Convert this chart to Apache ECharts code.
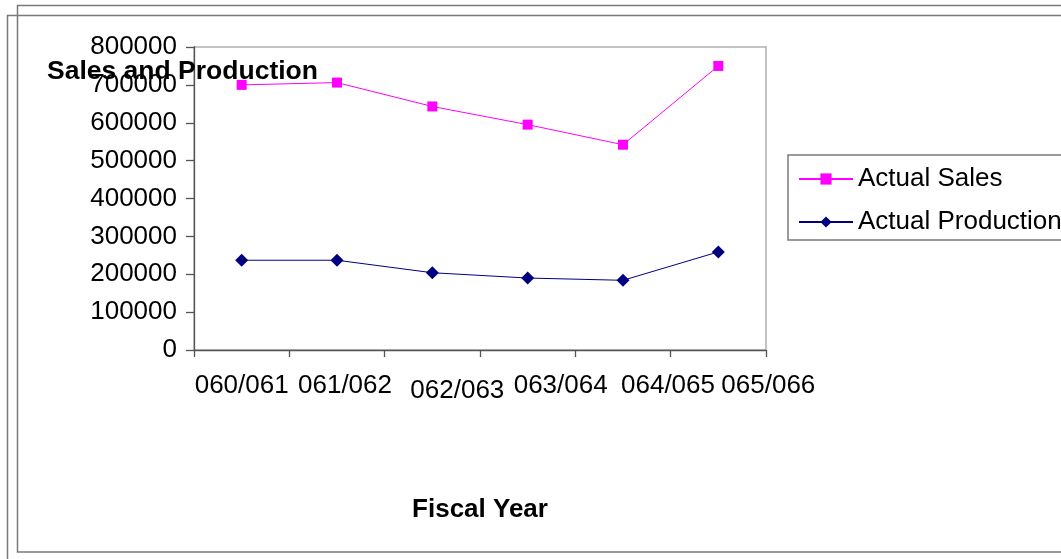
<!DOCTYPE html>
<html>
<head>
<meta charset="utf-8">
<script src="https://cdn.jsdelivr.net/npm/echarts@6/dist/echarts.min.js"></script>
<style>
  html, body { margin: 0; padding: 0; background: #fff; }
  #chart { width: 1061px; height: 559px; }
</style>
</head>
<body>
<div id="chart"></div>
<script>
// Fiscal years (Nepali calendar) on the category axis
const fiscalYears = ['060/061', '061/062', '062/063', '063/064', '064/065', '065/066'];
// Yearly totals
const actualSales = [700000, 706000, 643000, 595000, 542000, 750000];
const actualProduction = [237000, 237000, 204000, 190000, 184000, 259000];
// Value axis range
const yMin = 0;
const yMax = 800000;
const yStep = 100000;

// Per-label horizontal nudge (px) and drop, giving the staggered label row
const labelShift = [0, 8, 25, 33, 45, 50];
const labelDrop = [0, 0, 5, 0, 0, 0];

const FONT = '"Liberation Sans", Arial, sans-serif';

const rich = {};
fiscalYears.forEach(function (_, i) {
  const d = labelShift[i];
  rich['c' + i] = {
    fontFamily: FONT,
    fontSize: 26,
    color: '#000',
    padding: [labelDrop[i], d < 0 ? -2 * d : 0, 0, d > 0 ? 2 * d : 0]
  };
});

const chart = echarts.init(document.getElementById('chart'), null, { renderer: 'canvas' });

chart.setOption({
  animation: false,
  backgroundColor: '#fff',
  textStyle: { fontFamily: FONT },
  graphic: [
    {
      type: 'rect',
      shape: { x: 17.5, y: 5.5, width: 1100, height: 546.5 },
      style: { fill: null, stroke: '#7a7a7a', lineWidth: 1.5 },
      silent: true, z: -10
    },
    {
      type: 'rect',
      shape: { x: 7.5, y: 15.5, width: 1100, height: 600 },
      style: { fill: null, stroke: '#7a7a7a', lineWidth: 1.5 },
      silent: true, z: -10
    }
  ],
  title: {
    text: 'Sales and Production',
    left: 47,
    top: 58,
    padding: 0,
    textStyle: { fontFamily: FONT, fontSize: 26.5, fontWeight: 'bold', color: '#000' },
    z: 10
  },
  legend: {
    left: 788,
    top: 155,
    orient: 'vertical',
    padding: [11, 10, 5, 10],
    itemGap: 17,
    itemWidth: 54,
    itemHeight: 14,
    borderColor: '#7a7a7a',
    borderWidth: 1.5,
    borderRadius: 0,
    backgroundColor: '#fff',
    textStyle: { fontFamily: FONT, fontSize: 26, color: '#000' },
    data: ['Actual Sales', 'Actual Production']
  },
  grid: {
    left: 194,
    right: 295,
    top: 47,
    bottom: 209,
    show: true,
    borderColor: '#b0b0b0',
    borderWidth: 1.5,
    backgroundColor: 'transparent'
  },
  xAxis: {
    type: 'category',
    data: fiscalYears,
    boundaryGap: true,
    name: 'Fiscal Year',
    nameLocation: 'middle',
    nameGap: 147,
    nameTextStyle: { fontFamily: FONT, fontSize: 26, fontWeight: 'bold', color: '#000' },
    axisLine: { lineStyle: { color: '#555', width: 1.3 } },
    axisTick: { show: true, length: 7, alignWithLabel: false, lineStyle: { color: '#555', width: 1.3 } },
    axisLabel: {
      interval: 0,
      margin: 23,
      formatter: function (value, index) { return '{c' + index + '|' + value + '}'; },
      rich: rich
    },
    splitLine: { show: false }
  },
  yAxis: {
    type: 'value',
    min: yMin,
    max: yMax,
    interval: yStep,
    axisLine: { show: true, lineStyle: { color: '#555', width: 1.3 } },
    axisTick: { show: true, length: 8, lineStyle: { color: '#555', width: 1.3 } },
    axisLabel: {
      margin: 17,
      fontFamily: FONT,
      fontSize: 26,
      color: '#000',
      formatter: function (v) { return String(v); }
    },
    splitLine: { show: false }
  },
  series: [
    {
      name: 'Actual Sales',
      type: 'line',
      data: actualSales,
      symbol: 'rect',
      symbolSize: 10,
      color: '#ff00ff',
      lineStyle: { color: '#ff00ff', width: 1 },
      itemStyle: { color: '#ff00ff' }
    },
    {
      name: 'Actual Production',
      type: 'line',
      data: actualProduction,
      symbol: 'diamond',
      symbolSize: 13,
      color: '#000080',
      lineStyle: { color: '#000080', width: 1 },
      itemStyle: { color: '#000080' }
    }
  ]
});
</script>
</body>
</html>
